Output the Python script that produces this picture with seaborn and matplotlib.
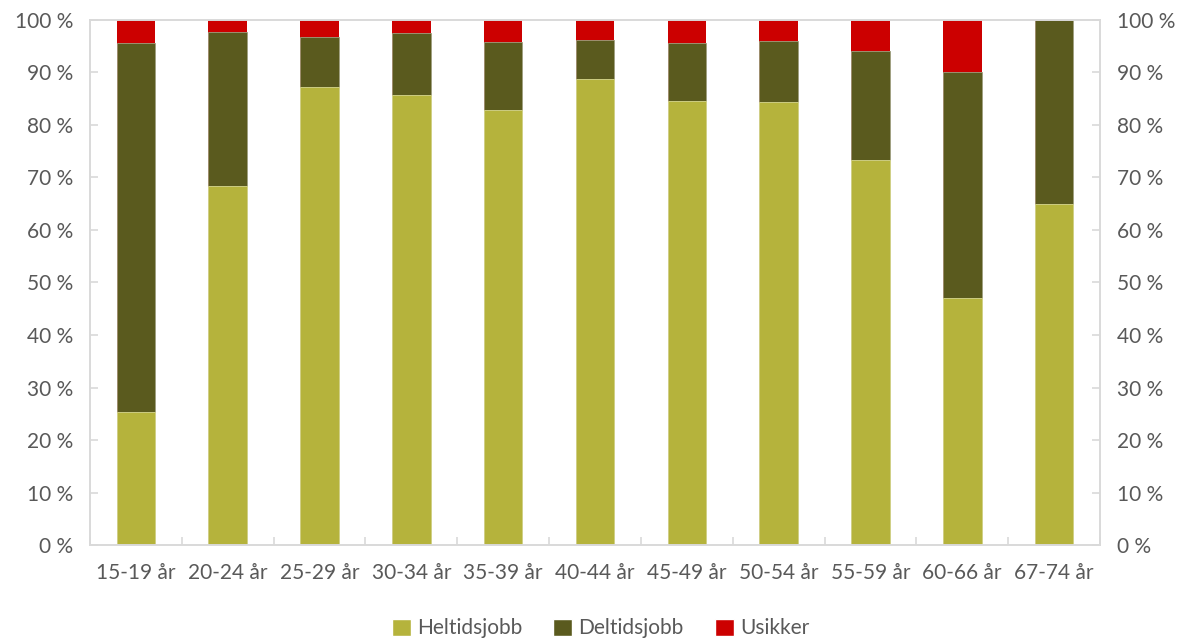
import numpy as np
import pandas as pd
import matplotlib
matplotlib.use("Agg")
import matplotlib.pyplot as plt
import seaborn as sns
from matplotlib.patches import Patch
from matplotlib.ticker import FuncFormatter, MultipleLocator

aldersgrupper = ["15-19 år", "20-24 år", "25-29 år", "30-34 år", "35-39 år", "40-44 år",
                 "45-49 år", "50-54 år", "55-59 år", "60-66 år", "67-74 år"]
heltid = [25.3, 68.4, 87.2, 85.7, 82.9, 88.8, 84.6, 84.4, 73.3, 47.0, 65.0]
deltid = [70.3, 29.4, 9.5, 11.8, 12.9, 7.3, 11.0, 11.5, 20.7, 43.0, 35.0]
usikker = [4.4, 2.2, 3.3, 2.5, 4.2, 3.9, 4.4, 4.1, 6.0, 10.0, 0.0]

farger = {"Heltidsjobb": "#b5b33c", "Deltidsjobb": "#5a5a1e", "Usikker": "#cc0000"}
tekstfarge = "#595959"
linjefarge = "#d9d9d9"
fs = 15

sns.set_theme(style="white")
plt.rcParams["font.family"] = ["Lato", "DejaVu Sans"]

df = pd.DataFrame({"Alder": aldersgrupper, "Heltidsjobb": heltid,
                   "Deltidsjobb": deltid, "Usikker": usikker})
df["topp_deltid"] = df["Heltidsjobb"] + df["Deltidsjobb"]
df["topp_usikker"] = df["topp_deltid"] + df["Usikker"]

fig = plt.figure(figsize=(11.89, 6.4), dpi=100)
ax = fig.add_axes([0.0757, 0.1484, 0.8494, 0.8204])

# tegner fra toppen og ned, så hvert lag dekker det over
sns.barplot(data=df, x="Alder", y="topp_usikker", color=farger["Usikker"], width=0.42,
            saturation=1, ax=ax, linewidth=0)
sns.barplot(data=df, x="Alder", y="topp_deltid", color=farger["Deltidsjobb"], width=0.42,
            saturation=1, ax=ax, edgecolor="#a0a080", linewidth=0.6)
sns.barplot(data=df, x="Alder", y="Heltidsjobb", color=farger["Heltidsjobb"], width=0.42,
            saturation=1, ax=ax, edgecolor="#d8d890", linewidth=0.6)

ax.set_ylim(0, 100)
ax.set_xlim(-0.5, len(aldersgrupper) - 0.5)
ax.yaxis.set_major_locator(MultipleLocator(10))
fmt = FuncFormatter(lambda v, p: f"{v:.0f} %")
ax.yaxis.set_major_formatter(fmt)
ax.set_xlabel("")
ax.set_ylabel("")

for s in ax.spines.values():
    s.set_color(linjefarge)
    s.set_linewidth(1.2)

ax2 = ax.twinx()
ax2.set_ylim(0, 100)
ax2.yaxis.set_major_locator(MultipleLocator(10))
ax2.yaxis.set_major_formatter(fmt)
for s in ax2.spines.values():
    s.set_color(linjefarge)
    s.set_linewidth(1.2)

ax.set_xticks(np.arange(-0.5, len(aldersgrupper)), minor=True)
ax.tick_params(axis="x", which="minor", direction="in", length=6, color=linjefarge, width=1.2, bottom=True)
ax.tick_params(axis="x", which="major", length=0, labelsize=fs, labelcolor=tekstfarge, pad=13)
ax.tick_params(axis="y", direction="in", length=6, color=linjefarge, width=1.2, left=True,
               labelsize=fs, labelcolor=tekstfarge, pad=12)
ax2.tick_params(axis="y", direction="in", length=6, color=linjefarge, width=1.2, right=True,
                labelsize=fs, labelcolor=tekstfarge, pad=12)

handles = [Patch(facecolor=farger[k], label=k) for k in ["Heltidsjobb", "Deltidsjobb", "Usikker"]]
fig.legend(handles=handles, loc="center", bbox_to_anchor=(0.505, 0.018), ncol=3, frameon=False,
           fontsize=fs, labelcolor=tekstfarge, handlelength=0.9, handleheight=0.9,
           handletextpad=0.3, columnspacing=1.5)

fig.savefig("out.png", dpi=100)
